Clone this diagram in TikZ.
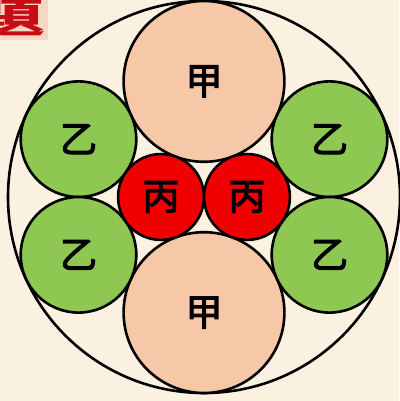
\documentclass[tikz,border=0pt]{standalone}
\usepackage{fontspec}
\newfontfamily\cjk{Noto Sans CJK TC}[FakeBold=3]
\newfontfamily\cjkhead{Noto Sans CJK TC}[FakeBold=4]
\definecolor{paper}{RGB}{250,241,224}
\definecolor{tabpink}{RGB}{248,214,198}
\definecolor{headred}{RGB}{200,12,20}
\definecolor{jiafill}{RGB}{246,200,168}
\definecolor{yifill}{RGB}{142,200,82}
\definecolor{bingfill}{RGB}{240,0,0}

\begin{document}
\begin{tikzpicture}[x=1pt, y=-1pt, every node/.style={font=\cjk\fontsize{37}{37}\selectfont},
	disc/.style={circle, draw=black, line width=2.6pt, inner sep=0pt, outer sep=0pt},
	jia/.style={disc, fill=jiafill, minimum size=160.8pt},
	yi/.style={disc, fill=yifill, minimum size=115.6pt},
	bing/.style={disc, fill=bingfill, minimum size=85.9pt}]
	\fill[paper] (0,0) rectangle (399,401);
	\useasboundingbox (0,0) rectangle (399,401);
	% corner tab with the clipped heading
	\fill[tabpink] (0,0) rectangle (48,40);
	\begin{scope}
		\clip (0,0) rectangle (48,40);
		\node[font=\cjkhead\fontsize{80}{80}\selectfont, text=headred, anchor=east, yscale=0.5, inner sep=0pt] (head) at (44,18) {題};
	\end{scope}
	% outer circle
	\node[disc, minimum size=392pt] (outer) at (204,197) {};
	% two large circles
	\node[jia] (jiaT) at (204,81.4) {甲};
	\node[jia] (jiaB) at (204,312.6) {甲};
	% four side circles
	\node[yi] (yiTL) at (78.5,139.2) {乙};
	\node[yi] (yiBL) at (78.5,254.8) {乙};
	\node[yi] (yiTR) at (329.5,139.2) {乙};
	\node[yi] (yiBR) at (329.5,254.8) {乙};
	% two small circles
	\node[bing] (bingL) at (161,197) {丙};
	\node[bing] (bingR) at (247,197) {丙};
\end{tikzpicture}
\end{document}
